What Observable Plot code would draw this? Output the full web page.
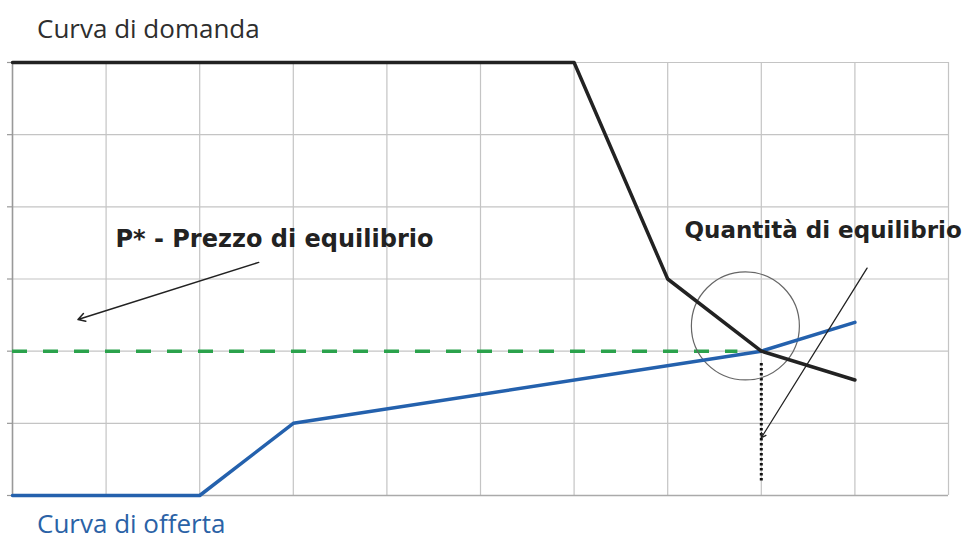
<!DOCTYPE html>
<html>
<head>
<meta charset="utf-8">
<script src="https://cdn.jsdelivr.net/npm/d3@7"></script>
<script src="https://cdn.jsdelivr.net/npm/@observablehq/plot@0.6"></script>
<style>
  html, body { margin: 0; padding: 0; background: #fff; }
  #wrap { width: 971px; height: 540px; overflow: hidden; }
  .ttl { font-family: "Open Sans", "Noto Sans", sans-serif; font-size: 26px; padding-left: 37px; white-space: nowrap; box-sizing: border-box; }
  #top { height: 48px; padding-top: 8px; line-height: 40px; color: #2e2e2e; }
  #bot { height: 40px; padding-top: 6px; line-height: 35px; color: #2a62a6; }
  svg { display: block; }
</style>
</head>
<body>
<div id="wrap">
  <div id="top" class="ttl">Curva di domanda</div>
  <div id="chart"></div>
  <div id="bot" class="ttl">Curva di offerta</div>
</div>
<script>
// Demand curve (quantity, price)
const demandQ = [0, 6, 7, 8, 9];
const demandP = [6, 6, 3, 2, 1.6];
// Supply curve
const supplyQ = [0, 2, 3, 8, 9];
const supplyP = [0, 0, 1, 2, 2.4];
// Equilibrium
const eqQ = 8;
const eqP = 2;
// Grid ticks
const xTicks = [0, 1, 2, 3, 4, 5, 6, 7, 8, 9, 10];
const yTicks = [0, 1, 2, 3, 4, 5, 6];
// Annotations
const labelPrice = "P* - Prezzo di equilibrio";
const labelQty = "Quantità di equilibrio";

const demand = demandQ.map((q, i) => ({q, p: demandP[i]}));
const supply = supplyQ.map((q, i) => ({q, p: supplyP[i]}));

const plot = Plot.plot({
  width: 971,
  height: 452,
  marginTop: 14,
  marginBottom: 5,
  marginLeft: 12,
  marginRight: 23,
  x: {type: "linear", domain: [0, 10], axis: null},
  y: {type: "linear", domain: [0, 6], axis: null},
  marks: [
    Plot.gridX(xTicks, {stroke: "#c4c4c4", strokeOpacity: 1, strokeWidth: 1.2}),
    Plot.gridY(yTicks, {stroke: "#c4c4c4", strokeOpacity: 1, strokeWidth: 1.2}),
    Plot.axisY(yTicks, {tickSize: 5, tickFormat: () => "", label: null, stroke: "#999", strokeWidth: 1.2}),
    Plot.ruleX([0], {stroke: "#999", strokeWidth: 1.5}),
    Plot.ruleY([0], {stroke: "#aaa", strokeWidth: 1.5}),
    // equilibrium price dashed
    Plot.ruleY([eqP], {x1: 0, x2: 7.75, stroke: "#2ba24c", strokeWidth: 3.5, strokeDasharray: "15,16"}),
    // equilibrium quantity dotted
    Plot.ruleX([eqQ], {y1: 0.2, y2: 1.85, stroke: "#111", strokeWidth: 3, strokeDasharray: "2.5,2.5"}),
    // circle
    Plot.dot([{q: 7.83, p: 2.35}], {x: "q", y: "p", r: 54, stroke: "#666", strokeWidth: 1.2, fill: "none"}),
    // supply and demand
    Plot.line(supply, {x: "q", y: "p", stroke: "#2461ad", strokeWidth: 3.5}),
    Plot.line(demand, {x: "q", y: "p", stroke: "#222", strokeWidth: 3.5}),
    // annotation arrows
    Plot.arrow([{x1: 2.63, y1: 3.23, x2: 0.7, y2: 2.44}], {x1: "x1", y1: "y1", x2: "x2", y2: "y2", stroke: "#222", strokeWidth: 1.5, headLength: 8}),
    Plot.arrow([{x1: 9.13, y1: 3.15, x2: 8.0, y2: 0.8}], {x1: "x1", y1: "y1", x2: "x2", y2: "y2", stroke: "#222", strokeWidth: 1.3, headLength: 6}),
    Plot.text([labelPrice], {x: 1.1, y: 3.55, text: d => d, textAnchor: "start", fontFamily: "DejaVu Sans", fontWeight: "bold", fontSize: 24, fill: "#222"}),
    Plot.text([labelQty], {x: 7.18, y: 3.67, text: d => d, textAnchor: "start", fontFamily: "DejaVu Sans", fontWeight: "bold", fontSize: 23, fill: "#222"})
  ]
});
document.getElementById("chart").appendChild(plot);
</script>
</body>
</html>
